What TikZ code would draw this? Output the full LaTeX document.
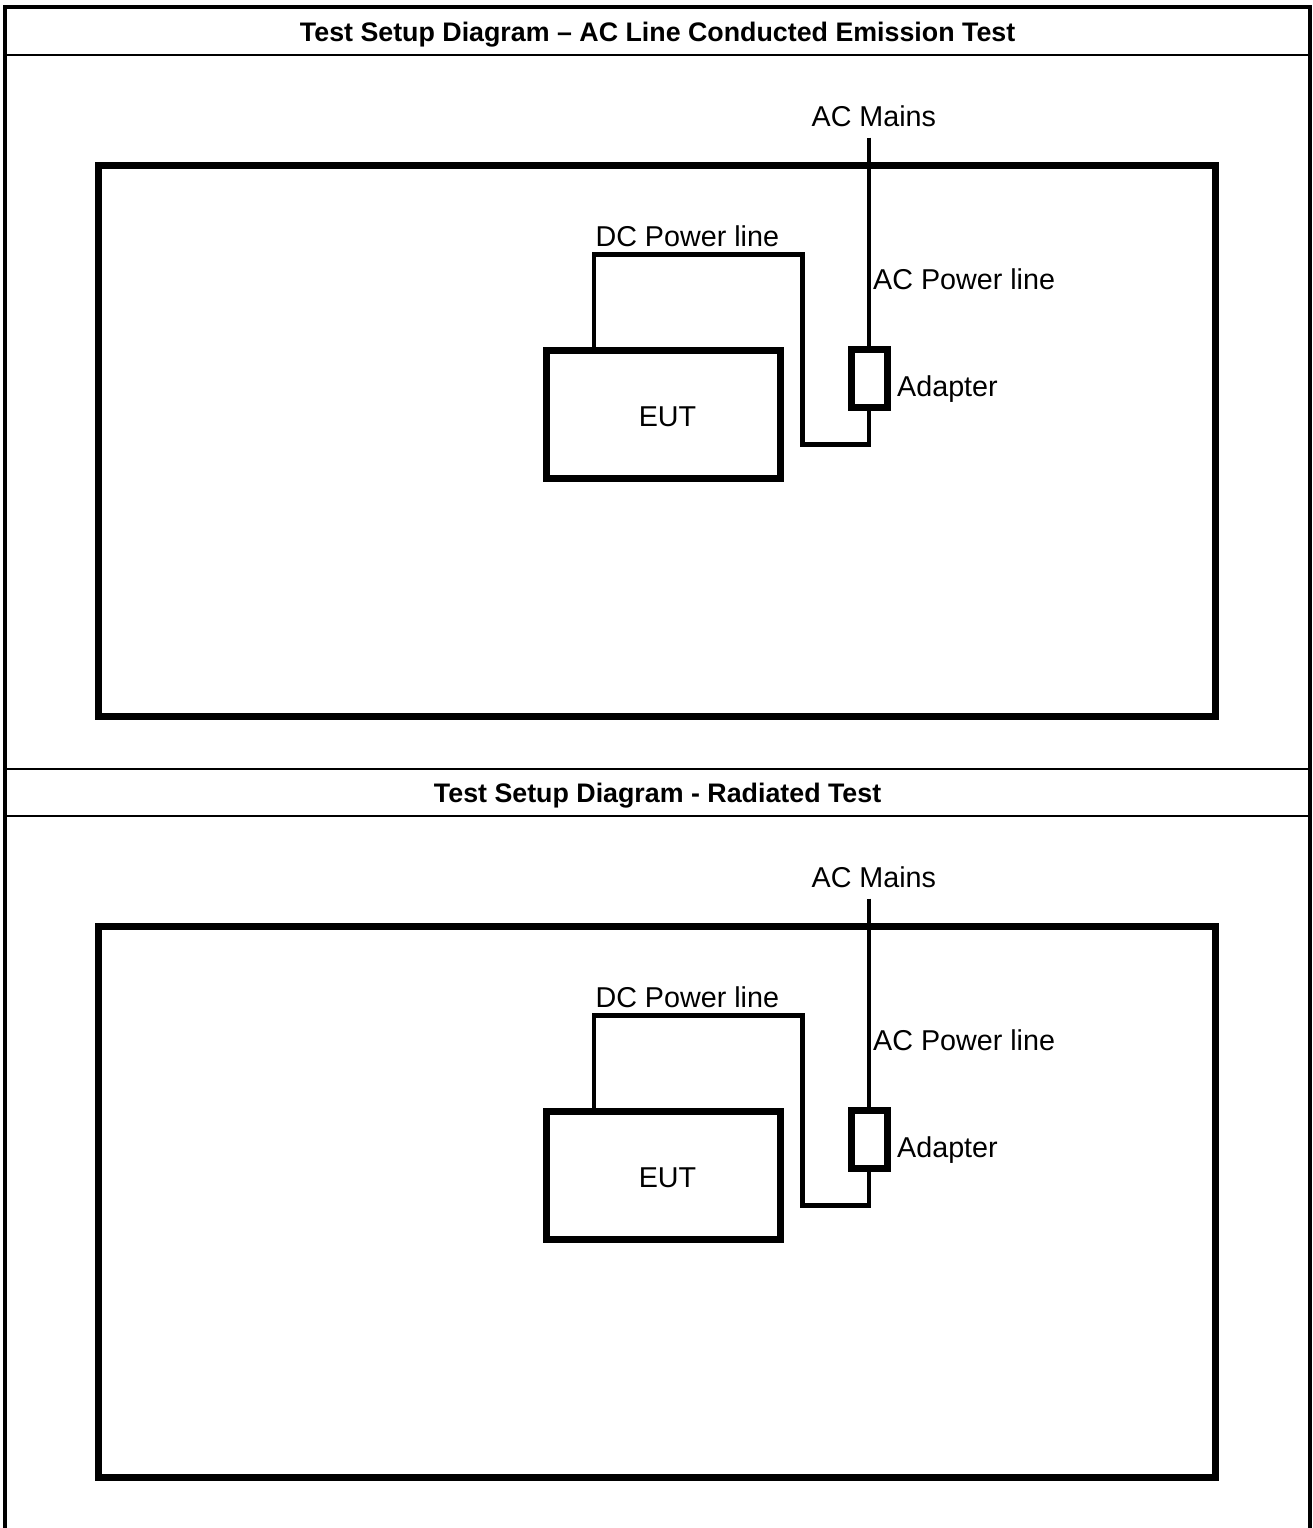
\documentclass[tikz,border=0pt]{standalone}
\usepackage{fontspec}
\setmainfont{Liberation Sans}
\begin{document}
\begin{tikzpicture}[x=1pt,y=-1pt,
  frameline/.style={line width=4pt},
  sepline/.style={line width=2pt},
  benchbox/.style={line width=7pt},
  devbox/.style={draw,line width=7pt,inner sep=0pt},
  cable/.style={line width=4.3pt,line join=miter},
  lbl/.style={inner sep=0pt,font=\fontsize{28.7}{32}\selectfont},
  ttl/.style={inner sep=0pt,font=\fontsize{26.8}{30}\selectfont\bfseries}]
\useasboundingbox (0,0) rectangle (1312,1528);
% table frame
\draw[frameline] (5.3,1530) -- (5.3,6.7) -- (1310,6.7) -- (1310,1530);
\draw[sepline] (5.3,54.7) -- (1310,54.7);
\draw[sepline] (5.3,769.3) -- (1310,769.3);
\draw[sepline] (5.3,816) -- (1310,816);
% titles
\node[ttl,anchor=base] (title1) at (657.6,41.7) {Test Setup Diagram – AC Line Conducted Emission Test};
\node[ttl,anchor=base] (title2) at (657.6,802.7) {Test Setup Diagram - Radiated Test};
% two setups
\foreach \s/\dy in {a/0,b/761}{
\begin{scope}[shift={(0,\dy)}]
  \draw[benchbox] (98.5,165) rectangle (1215.7,716.5);
  \node[devbox,minimum width=233.5pt,minimum height=128pt] (eut\s) at (663.3,414) {};
  \node[lbl,anchor=base] (euttext\s) at (667.5,426.7) {EUT};
  \node[devbox,minimum width=36pt,minimum height=58pt] (adapter\s) at (869,378.8) {};
  \node[lbl,anchor=base] (mains\s) at (873.8,126) {AC Mains};
  \node[lbl,anchor=base west] (acl\s) at (873,289) {AC Power line};
  \node[lbl,anchor=base west] (adl\s) at (897,396) {Adapter};
  \node[lbl,anchor=base] (dcl\s) at (687.3,246.7) {DC Power line};
  \coordinate (mainsend\s) at (869,137.7);
  \coordinate (dcleft\s) at (594,254.5);
  \coordinate (dcright\s) at (802.5,444.5);
  \draw[cable] (mainsend\s) -- (adapter\s.north);
  \draw[cable] (eut\s.north -| dcleft\s) -- (dcleft\s) -- (dcleft\s -| dcright\s) -- (dcright\s) -- (dcright\s -| adapter\s.south) -- (adapter\s.south);
\end{scope}
}
\end{tikzpicture}
\end{document}
